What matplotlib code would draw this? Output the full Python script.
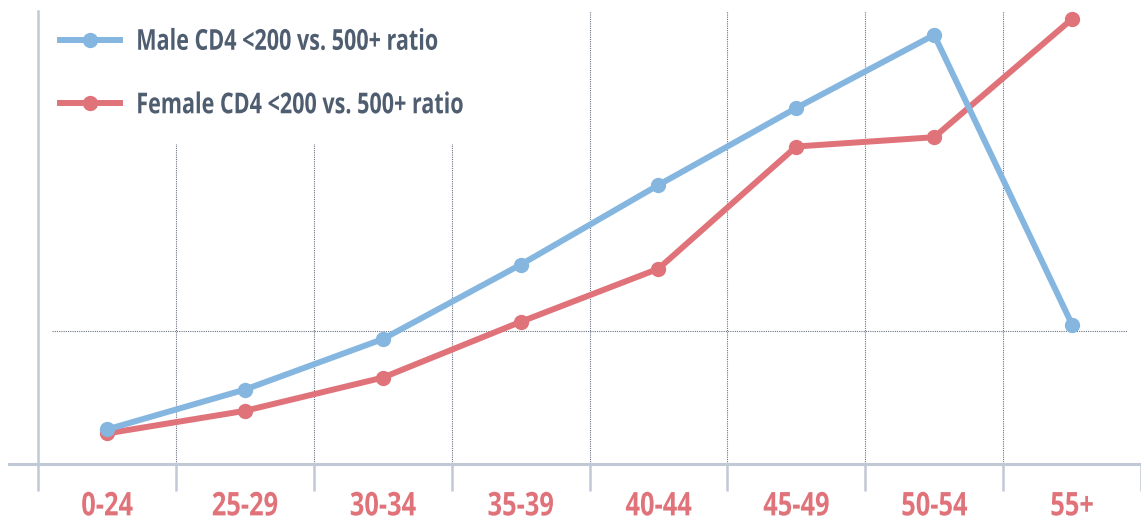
import matplotlib
matplotlib.use("Agg")
import matplotlib.pyplot as plt
from matplotlib.patches import Rectangle
from matplotlib.patheffects import AbstractPathEffect
from matplotlib.transforms import Affine2D

# Ratio of patients with CD4 <200 to those with CD4 500+, by age group
age_groups = ["0-24", "25-29", "30-34", "35-39", "40-44", "45-49", "50-54", "55+"]
male_ratio = [0.26, 0.56, 0.94, 1.50, 2.10, 2.68, 3.23, 1.05]
female_ratio = [0.23, 0.40, 0.65, 1.07, 1.47, 2.39, 2.46, 3.35]
series_labels = ["Male CD4 <200 vs. 500+ ratio", "Female CD4 <200 vs. 500+ ratio"]
reference_level = 1.0

BLUE = "#85b6e0"
RED = "#e0737a"
AXIS = "#c1c8d6"
GRID = "#6a7282"
TEXT = "#4f5d70"
FONT = ["Open Sans", "DejaVu Sans"]


class Squeeze(AbstractPathEffect):
    """Draw text glyphs narrowed horizontally (condensed look)."""

    def __init__(self, factor, anchor="center"):
        super().__init__()
        self.factor = factor
        self.anchor = anchor

    def draw_path(self, renderer, gc, tpath, affine, rgbFace=None):
        if self.anchor == "left":
            x0 = 0.0
        else:
            ext = tpath.get_extents()
            x0 = (ext.x0 + ext.x1) / 2
        squeeze = Affine2D().translate(-x0, 0).scale(self.factor, 1).translate(x0, 0)
        renderer.draw_path(gc, tpath, squeeze + affine, rgbFace)


W, H = 1141, 524
fig = plt.figure(figsize=(W / 100, H / 100), dpi=100)
ax = fig.add_axes([38 / W, 60 / H, (W - 38) / W, 453 / H])

n = len(age_groups)
x = list(range(n))
ax.set_xlim(-0.5, n - 0.5)
ax.set_ylim(0, 3.41)

# dotted grid: category separators and one horizontal reference level
bounds = [i + 0.5 for i in range(n - 1)]
ax.vlines(bounds, 0, 3.41, colors=GRID, linestyles=(0, (1, 1)), linewidth=0.8, zorder=1)
ax.axhline(reference_level, xmin=0.0127, xmax=0.987, color=GRID,
           linestyle=(0, (1, 1)), linewidth=0.8, zorder=1)

# white backdrop behind the legend
ax.add_patch(Rectangle((0, 0.706), 0.437, 0.3, transform=ax.transAxes,
                       facecolor="white", edgecolor="none", zorder=1.5))

# series
female_line, = ax.plot(x, female_ratio, color=RED, lw=4.3, marker="o", ms=10,
                       zorder=3, solid_joinstyle="round")
male_line, = ax.plot(x, male_ratio, color=BLUE, lw=4.3, marker="o", ms=10,
                     zorder=4, solid_joinstyle="round")

# axes styling
for side in ("top", "right", "bottom"):
    ax.spines[side].set_visible(False)
ax.spines["left"].set_color(AXIS)
ax.spines["left"].set_linewidth(1.8)
ax.axhline(0, xmin=-0.026, xmax=1.0, color=AXIS, lw=2.2, clip_on=False, zorder=2)

ax.set_yticks([])
ax.set_xticks(x)
ax.set_xticklabels(age_groups)
ax.tick_params(axis="x", which="major", length=0, pad=19, labelsize=23.5,
               labelcolor=RED)
for lab in ax.get_xticklabels():
    lab.set_fontfamily(FONT)
    lab.set_fontweight("bold")
    lab.set_path_effects([Squeeze(0.78, "center")])
ax.set_xticks([-0.5] + bounds + [n - 0.5], minor=True)
ax.tick_params(axis="x", which="minor", length=19.5, width=1.8, color=AXIS,
               direction="out")

leg = ax.legend([male_line, female_line], series_labels, loc="upper left",
                bbox_to_anchor=(0.02, 0.963), borderaxespad=0, borderpad=0,
                frameon=False, handlelength=2.1, handletextpad=0.55,
                labelspacing=1.2,
                prop={"family": FONT, "weight": "bold", "size": 20.7})
leg.set_zorder(5)
for t in leg.get_texts():
    t.set_color(TEXT)
    t.set_path_effects([Squeeze(0.75, "left")])

fig.savefig("out.png", dpi=100)
